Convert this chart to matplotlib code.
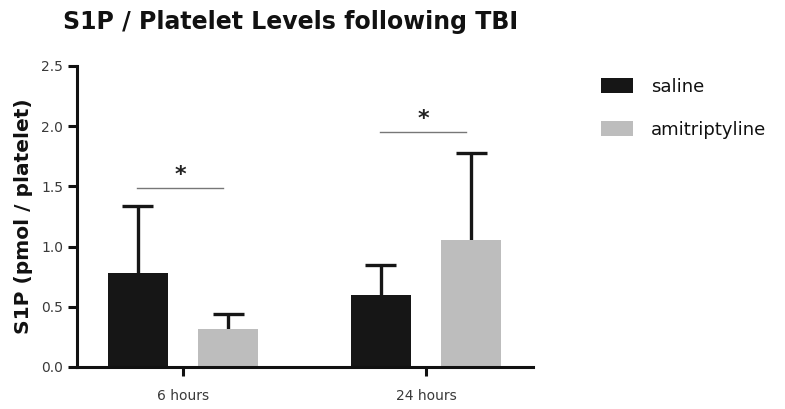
import matplotlib
matplotlib.use("Agg")
import matplotlib.pyplot as plt
import numpy as np
from matplotlib.patches import Patch

# Values (mean + upper SD)
groups = ["6 hours", "24 hours"]
series = ["saline", "amitriptyline"]
saline_mean = [0.78, 0.60]
saline_err = [0.56, 0.25]
amit_mean = [0.315, 1.056]
amit_err = [0.125, 0.72]
sig_level = [1.485, 1.95]

BLACK = "#161616"
GREY = "#bdbdbd"
FONT = "DejaVu Sans"

fig = plt.figure(figsize=(7.85, 4.09), dpi=100)
ax = fig.add_axes([0.098, 0.1027, 0.581, 0.736])

x = np.arange(len(groups))
off = 0.186
w = 0.247
cap = 0.064

# upper-only error bars, drawn behind the bars
for xs, m, e in [(x - off, saline_mean, saline_err), (x + off, amit_mean, amit_err)]:
    top = np.array(m) + np.array(e)
    ax.vlines(xs, m, top, color=BLACK, lw=2.4, zorder=1)
    ax.hlines(top, xs - cap, xs + cap, color=BLACK, lw=2.4, zorder=1)

ax.bar(x - off, saline_mean, w, color=BLACK, zorder=2)
ax.bar(x + off, amit_mean, w, color=GREY, zorder=2)

# significance bars
for xi, lv in zip(x, sig_level):
    ax.plot([xi - 0.19, xi + 0.165], [lv, lv], color="#777777", lw=1.0)
    ax.text(xi - 0.012, lv + 0.025, "*", ha="center", va="bottom",
            fontsize=16, fontweight="bold", family=FONT, color="#222222")

ax.set_xlim(-0.436, 1.44)
ax.set_ylim(0, 2.5)
ax.set_yticks([0.0, 0.5, 1.0, 1.5, 2.0, 2.5])
ax.set_yticklabels(["0.0", "0.5", "1.0", "1.5", "2.0", "2.5"])
ax.set_xticks(x)
ax.set_xticklabels(groups)

for s in ["top", "right"]:
    ax.spines[s].set_visible(False)
for s in ["left", "bottom"]:
    ax.spines[s].set_linewidth(2.2)
    ax.spines[s].set_color("#111111")
ax.tick_params(axis="both", width=2.2, length=6.5, color="#111111",
               labelsize=10, labelcolor="#3a3a3a")
ax.tick_params(axis="x", pad=9)
for lab in ax.get_xticklabels() + ax.get_yticklabels():
    lab.set_family(FONT)

ax.set_ylabel("S1P (pmol / platelet)", fontsize=14.5, fontweight="bold",
              family=FONT, labelpad=6, color="#111111")

fig.text(0.08, 0.946, "S1P / Platelet Levels following TBI", fontsize=17,
         fontweight="bold", family=FONT, color="#111111", va="center")

handles = [Patch(facecolor=BLACK), Patch(facecolor=GREY)]
leg = fig.legend(handles, series, loc="upper left", bbox_to_anchor=(0.766, 0.81),
                 frameon=False, borderpad=0, borderaxespad=0,
                 handlelength=1.77, handleheight=0.88,
                 handletextpad=1.0, labelspacing=1.4,
                 prop={"family": FONT, "size": 13})
for t in leg.get_texts():
    t.set_color("#111111")

fig.savefig("out.png", dpi=100)
